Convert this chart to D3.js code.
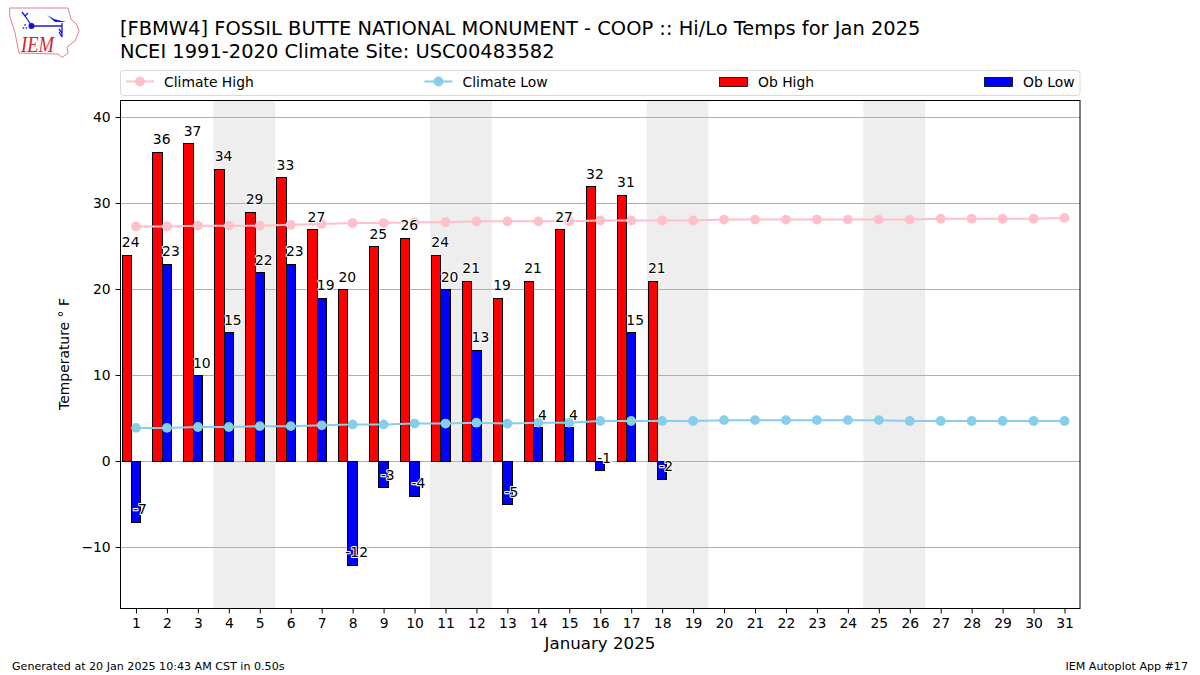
<!DOCTYPE html>
<html>
<head>
<meta charset="utf-8">
<title>FBMW4 Hi/Lo Temps Jan 2025</title>
<script src="https://d3js.org/d3.v7.min.js"></script>
<style>
html, body { margin: 0; padding: 0; background: #fff; }
svg { display: block; }
text { font-family: "DejaVu Sans", sans-serif; fill: #000; }
.axis text { font-size: 13.9px; }
.axis path, .axis line { stroke: #000; stroke-width: 1px; }
.val { font-size: 13.9px; paint-order: stroke; stroke: #fff; stroke-width: 2px; stroke-linejoin: round; }
</style>
</head>
<body>
<div id="container"></div>
<script>

//------------------------------DATA-----------------------------//
var days = d3.range(1, 32);
var obDays = d3.range(1, 19);
var obHigh = [24, 36, 37, 34, 29, 33, 27, 20, 25, 26, 24, 21, 19, 21, 27, 32, 31, 21];
var obLow = [-7, 23, 10, 15, 22, 23, 19, -12, -3, -4, 20, 13, -5, 4, 4, -1, 15, -2];
var climateHigh = [27.3, 27.3, 27.4, 27.4, 27.4, 27.5, 27.6, 27.7, 27.7, 27.8, 27.8, 27.9, 27.9, 27.9, 27.9, 28.0,
    28.0, 28.0, 28.0, 28.1, 28.1, 28.1, 28.1, 28.1, 28.1, 28.1, 28.2, 28.2, 28.2, 28.2, 28.3];
var climateLow = [3.9, 3.9, 4.0, 4.0, 4.1, 4.1, 4.2, 4.3, 4.3, 4.4, 4.4, 4.5, 4.4, 4.5, 4.5, 4.7,
    4.7, 4.7, 4.7, 4.8, 4.8, 4.8, 4.8, 4.8, 4.8, 4.7, 4.7, 4.7, 4.7, 4.7, 4.7];
var weekendStarts = [4, 11, 18, 25];
var yTicks = [-10, 0, 10, 20, 30, 40];

var titleLines = ["[FBMW4] FOSSIL BUTTE NATIONAL MONUMENT - COOP :: Hi/Lo Temps for Jan 2025",
    "NCEI 1991-2020 Climate Site: USC00483582"];

//----------------------------SCALES-----------------------------//
var left = 120.5, right = 1080, top_ = 100.5, bottom = 608.5;
var xScale = d3.scaleLinear().domain([0.5, 31.5]).range([left, right]);
var yScale = d3.scaleLinear().domain([-17.03, 42]).range([608, 100]);

function snapY(v) { return Math.floor(yScale(v)) + 0.5; }

var svg = d3.select("#container").append("svg")
    .attr("width", 1200)
    .attr("height", 675);

//-----------------------------LOGO------------------------------//
var logo = svg.append("g").attr("fill", "none");
logo.append("path")
    .attr("d", "M9.5 8 L68 8 L71 19 L77 25 L79 31 L75 41 L67 47 L68 53 L62 57.5 L58 54 L19 53 L15 33 L10 17 Z")
    .attr("stroke", "#e57f85")
    .attr("stroke-width", 1);
logo.append("path")
    .attr("d", "M32 26 L62 26 M32 26 L25 16 M25 16 L22 12 M25 16 L28 13 M62 23 L62 37 M59 32 L62 37 M59 29 L62 33")
    .attr("stroke", "#1a1ae0")
    .attr("stroke-width", 1.3);
logo.append("path")
    .attr("d", "M47 15 L54 19 L66 22 L55 22 Z")
    .attr("fill", "#1a1ae0");
logo.append("circle").attr("cx", 31.5).attr("cy", 26).attr("r", 3).attr("fill", "#1010d0");
logo.append("circle").attr("cx", 25).attr("cy", 25).attr("r", 0.9).attr("fill", "#4040e0");
logo.append("circle").attr("cx", 23.5).attr("cy", 28).attr("r", 0.9).attr("fill", "#4040e0");
logo.append("circle").attr("cx", 26.5).attr("cy", 28).attr("r", 0.9).attr("fill", "#4040e0");
logo.append("text")
    .attr("x", 21).attr("y", 52)
    .style("font-family", "'Liberation Serif', serif")
    .style("font-style", "italic")
    .style("font-size", "24px")
    .style("fill", "#d8232a")
    .attr("textLength", 33)
    .attr("lengthAdjust", "spacingAndGlyphs")
    .text("IEM");

//-----------------------------TITLE-----------------------------//
svg.selectAll(".title")
    .data(titleLines)
    .enter()
    .append("text")
    .attr("class", "title")
    .attr("x", 120)
    .attr("y", function(d, i) { return 35 + i * 22.5; })
    .style("font-size", "19.45px")
    .text(function(d) { return d; });

//----------------------------LEGEND-----------------------------//
svg.append("rect")
    .attr("x", 120.5).attr("y", 70.5)
    .attr("width", 959.5).attr("height", 25)
    .attr("rx", 3)
    .attr("fill", "#fff")
    .attr("stroke", "#d9d9d9");

var lineLegend = [
    { label: "Climate High", color: "pink", x: 126 },
    { label: "Climate Low", color: "skyblue", x: 424.5 }
];
var barLegend = [
    { label: "Ob High", color: "red", x: 719 },
    { label: "Ob Low", color: "blue", x: 984 }
];

lineLegend.forEach(function(d) {
    svg.append("line")
        .attr("x1", d.x).attr("x2", d.x + 28)
        .attr("y1", 81.5).attr("y2", 81.5)
        .attr("stroke", d.color).attr("stroke-width", 2);
    svg.append("circle")
        .attr("cx", d.x + 14).attr("cy", 81.5).attr("r", 4.9)
        .attr("fill", d.color);
    svg.append("text")
        .attr("x", d.x + 38).attr("y", 86.5)
        .style("font-size", "13.9px")
        .text(d.label);
});
barLegend.forEach(function(d) {
    svg.append("rect")
        .attr("x", d.x + 0.5).attr("y", 77.5)
        .attr("width", 28).attr("height", 9)
        .attr("fill", d.color)
        .attr("stroke", "#000").attr("stroke-width", 0.8);
    svg.append("text")
        .attr("x", d.x + 39).attr("y", 86.5)
        .style("font-size", "13.9px")
        .text(d.label);
});

//---------------------------BACKGROUND--------------------------//
svg.selectAll(".weekend")
    .data(weekendStarts)
    .enter()
    .append("rect")
    .attr("class", "weekend")
    .attr("x", function(d) { return xScale(d - 0.5); })
    .attr("y", top_)
    .attr("width", function(d) { return xScale(d + 1.5) - xScale(d - 0.5); })
    .attr("height", bottom - top_)
    .attr("fill", "#eeeeee");

svg.selectAll(".grid")
    .data(yTicks)
    .enter()
    .append("line")
    .attr("class", "grid")
    .attr("x1", left).attr("x2", right)
    .attr("y1", snapY)
    .attr("y2", snapY)
    .attr("stroke", "#b0b0b0")
    .attr("stroke-width", 1);

//-----------------------------BARS------------------------------//
// edges snapped to whole pixels so the outlines stay crisp
function barEdges(d, i, offset) {
    var x0 = Math.floor(xScale(obDays[i] + offset - 0.15)) + 0.5;
    var x1 = Math.floor(xScale(obDays[i] + offset + 0.15)) + 0.5;
    var end = Math.round(yScale(d)) + 0.5;
    var base = snapY(0);
    return { x: x0, w: x1 - x0, y: Math.min(end, base), h: Math.abs(end - base) };
}

function drawBars(values, offset, color) {
    svg.selectAll(".bar-" + color)
        .data(values)
        .enter()
        .append("rect")
        .attr("class", "bar-" + color)
        .attr("x", function(d, i) { return barEdges(d, i, offset).x; })
        .attr("y", function(d, i) { return barEdges(d, i, offset).y; })
        .attr("width", function(d, i) { return barEdges(d, i, offset).w; })
        .attr("height", function(d, i) { return barEdges(d, i, offset).h; })
        .attr("fill", color)
        .attr("stroke", "#000")
        .attr("stroke-width", 1);
}
drawBars(obHigh, -0.3, "red");
drawBars(obLow, 0, "blue");

//----------------------------LINES------------------------------//
function drawClimate(values, color) {
    var line = d3.line()
        .x(function(d, i) { return xScale(days[i]); })
        .y(function(d) { return yScale(d); });
    svg.append("path")
        .attr("d", line(values))
        .attr("fill", "none")
        .attr("stroke", color)
        .attr("stroke-width", 2);
    svg.selectAll(".pt-" + color)
        .data(values)
        .enter()
        .append("circle")
        .attr("class", "pt-" + color)
        .attr("cx", function(d, i) { return xScale(days[i]); })
        .attr("cy", function(d) { return yScale(d); })
        .attr("r", 4.9)
        .attr("fill", color);
}
drawClimate(climateHigh, "pink");
drawClimate(climateLow, "skyblue");

//-----------------------------AXES------------------------------//
var yaxis = d3.axisLeft(yScale)
    .tickValues(yTicks)
    .tickSize(4.9)
    .tickPadding(4.9)
    .tickFormat(function(d) { return d < 0 ? "\u2212" + (-d) : d; });
var xaxis = d3.axisBottom(xScale)
    .tickValues(days)
    .tickSize(4.9)
    .tickPadding(4.9)
    .tickFormat(d3.format("d"));

svg.append("rect")
    .attr("x", left).attr("y", top_)
    .attr("width", right - left).attr("height", bottom - top_)
    .attr("fill", "none")
    .attr("stroke", "#000");

svg.append("g")
    .attr("class", "axis")
    .attr("transform", "translate(" + left + ",0)")
    .call(yaxis)
    .call(function(g) {
        g.select(".domain").remove();
        // keep ticks on the same pixel as the grid lines
        g.selectAll(".tick").attr("transform", function(d) { return "translate(0," + snapY(d) + ")"; });
    });

svg.append("g")
    .attr("class", "axis")
    .attr("transform", "translate(0," + bottom + ")")
    .call(xaxis)
    .call(function(g) { g.select(".domain").remove(); });

svg.append("text")
    .attr("x", 600).attr("y", 649)
    .attr("text-anchor", "middle")
    .style("font-size", "16.67px")
    .text("January 2025");

svg.append("text")
    .attr("transform", "translate(69,354) rotate(-90)")
    .attr("text-anchor", "middle")
    .style("font-size", "13.9px")
    .text("Temperature \u00b0 F");

//----------------------------LABELS-----------------------------//
function drawLabels(values, offset, cls) {
    svg.selectAll("." + cls)
        .data(values)
        .enter()
        .append("text")
        .attr("class", "val " + cls)
        .attr("text-anchor", "middle")
        .attr("x", function(d, i) { return xScale(obDays[i] + offset) + 4; })
        .attr("y", function(d) { return yScale(d) - 7.5; })
        .text(function(d) { return d; });
}
drawLabels(obHigh, -0.3, "lab-high");
drawLabels(obLow, 0, "lab-low");

//----------------------------FOOTER-----------------------------//
svg.append("text")
    .attr("x", 12).attr("y", 670)
    .style("font-size", "11.1px")
    .text("Generated at 20 Jan 2025 10:43 AM CST in 0.50s");
svg.append("text")
    .attr("x", 1188).attr("y", 670)
    .attr("text-anchor", "end")
    .style("font-size", "11.1px")
    .text("IEM Autoplot App #17");

</script>
</body>
</html>
